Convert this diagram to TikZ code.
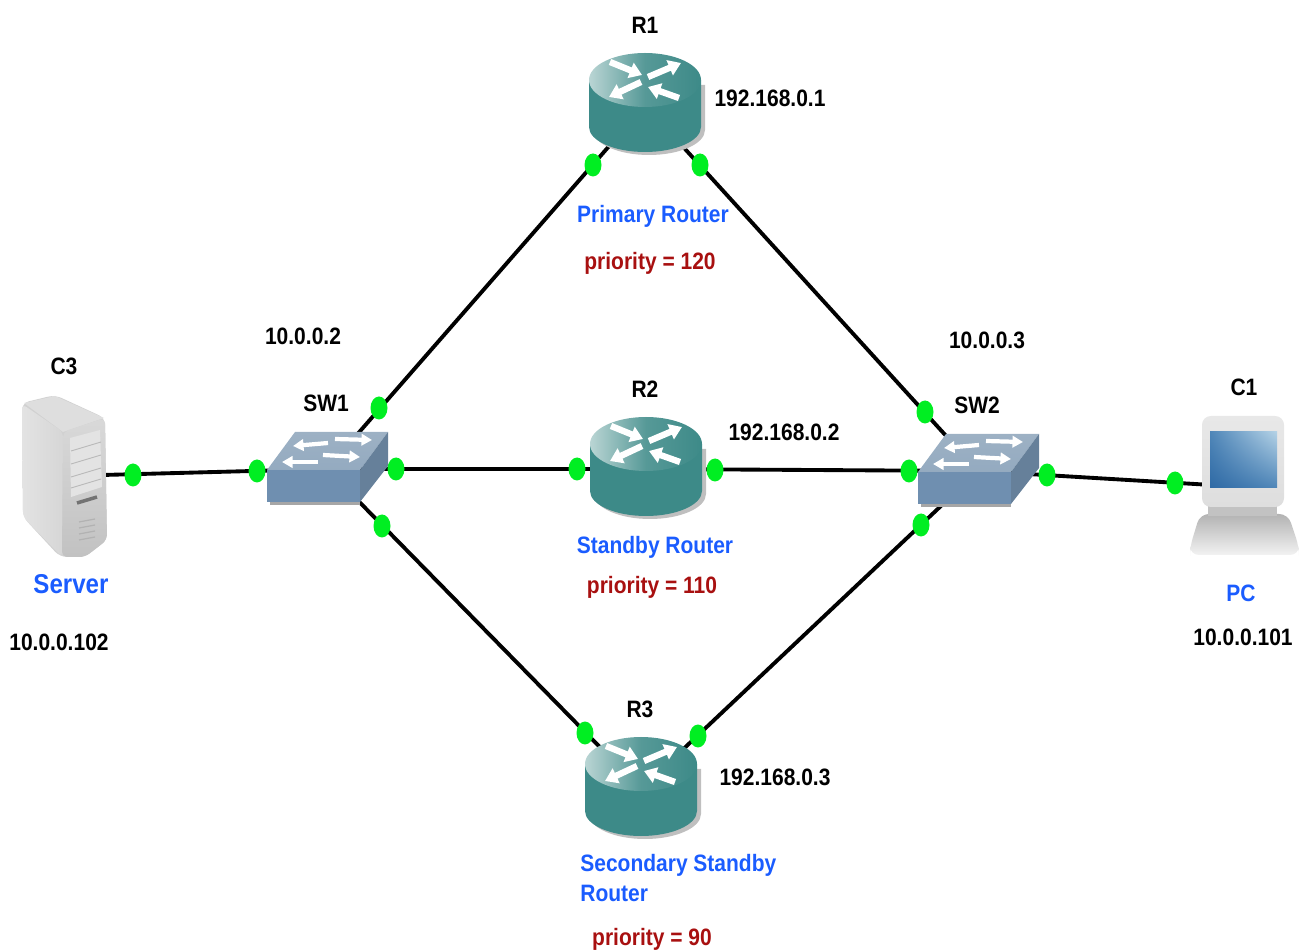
\documentclass[tikz,border=0pt]{standalone}
\usepackage{fontspec}
\usetikzlibrary{arrows.meta,shapes.geometric,shadings}
\newfontfamily\labfont[FakeStretch=0.885]{Liberation Sans}
\definecolor{teal1}{HTML}{3D8A88}
\definecolor{teallight}{HTML}{BAD5D4}
\definecolor{labblue}{HTML}{1A5CFF}
\definecolor{labred}{HTML}{A81010}
\definecolor{dotgreen}{HTML}{00EE22}
\definecolor{swfront}{HTML}{6F8FB0}
\definecolor{swtop}{HTML}{9DB1C4}
\definecolor{swside}{HTML}{66809A}
\definecolor{scrdark}{HTML}{2F6AA5}
\definecolor{scrmid}{HTML}{4F86B8}
\definecolor{scrlight}{HTML}{B4D2E6}
\tikzset{
  link/.style={line width=2.2pt,black},
  portdot/.style={shape=ellipse,fill=dotgreen,inner sep=0pt,minimum width=0.34cm,minimum height=0.46cm},
  txt/.style={font=\labfont\bfseries\fontsize{13.5}{17}\selectfont,text=black,inner sep=0pt},
  txtblue/.style={txt,text=labblue},
  txtbig/.style={txt,text=labblue,font=\labfont\bfseries\fontsize{15.5}{17}\selectfont},
  txtred/.style={txt,text=labred},
  whitearrow/.style={white,line width=3.6pt,-{Triangle[width=9pt,length=7pt]}},
  swarrow/.style={white,line width=2.4pt,-{Triangle[width=6.5pt,length=6pt]}},
  router/.pic={
    \fill[black!25] (-52,-20) -- (-52,25) arc[start angle=180,end angle=360,x radius=56,y radius=-25] -- (60,-20) -- cycle;
    \fill[teal1] (-56,-25) -- (-56,22) arc[start angle=180,end angle=360,x radius=56,y radius=-25] -- (56,-25) -- cycle;
    \shade[left color=teallight,right color=teal1,middle color=teal1!80!teallight] (0,-25) ellipse [x radius=56,y radius=27];
    \draw[whitearrow] (-35,-43) -- (-3,-30);
    \draw[whitearrow] (3,-28) -- (36,-42);
    \draw[whitearrow] (-4,-23) -- (-36,-8);
    \draw[whitearrow] (34,-7) -- (3,-18);
  },
  switchicon/.pic={
    \fill[black!35] (-57,6) rectangle (33,36);
    \fill[swfront] (-60,1) rectangle (33,33);
    \shade[top color=swtop,bottom color=swtop!80!swfront] (-60,1) -- (-32,-37) -- (61,-37) -- (33,1) -- cycle;
    \fill[swside] (33,1) -- (61,-37) -- (61,-3) -- (33,33) -- cycle;
    \draw[swarrow] (1,-26) -- (-34,-23);
    \draw[swarrow] (8,-30) -- (45,-29);
    \draw[swarrow] (-9,-7) -- (-45,-7);
    \draw[swarrow] (-4,-14) -- (33,-12);
  },
  servericon/.pic={
    \fill[black!18,rounded corners=4pt] (-43,-73) -- (-10,-81) -- (40,-58) -- (42,64) -- (20,81) -- (-5,81) -- (-42,41) -- cycle;
    \fill[black!13] (-41,-73) -- (-10,-80) -- (39,-58) -- (-2,-44) -- cycle;
    \shade[left color=black!11,right color=black!16,rounded corners=3pt] (-43,-72) -- (-2,-44) -- (-3,81) -- (-42,41) -- cycle;
    \shade[top color=black!15,bottom color=black!24,rounded corners=3pt] (-2,-44) -- (40,-58) -- (42,64) -- (20,81) -- (-3,81) -- cycle;
    \fill[black!11] (5,-38) -- (35,-46) -- (37,11) -- (6,21) -- cycle;
    \foreach \yy in {-25,-12,1,12}{\draw[black!28,line width=.5pt] (6,\yy) -- (36,\yy-9);}
    \draw[black!55,line width=2pt] (12,27) -- (32,21);
    \foreach \yy in {46,52,58,64}{\draw[black!30,line width=.7pt] (14,\yy) -- (30,\yy-3);}
  },
  pcicon/.pic={
    \shade[top color=black!30,bottom color=black!5,rounded corners=5pt] (-45,27) -- (43,27) -- (54,60) -- (54,68) -- (-55,68) -- (-55,60) -- cycle;
    \fill[black!24] (-37,18) rectangle (32,29);
    \shade[top color=black!9,bottom color=black!13,rounded corners=5pt] (-43,-71) rectangle (39,20);
    \shade[lower left=scrdark,lower right=scrmid,upper left=scrmid,upper right=scrlight] (-35,-55) rectangle (32,1);
  },
}
\begin{document}
\begin{tikzpicture}[x=0.02cm,y=-0.02cm]
\useasboundingbox (0,0) rectangle (1299,952);
\coordinate (C3) at (65,476);
\coordinate (SW1) at (327,469);
\coordinate (R1) at (645,105);
\coordinate (R2) at (646,469);
\coordinate (R3) at (641,789);
\coordinate (SW2) at (978,471);
\coordinate (C1) at (1245,487);
% connectors
\draw[link] (C3) -- (SW1);
\draw[link] (SW1) -- (R1);
\draw[link] (SW1) -- (R2);
\draw[link] (SW1) -- (R3);
\draw[link] (R1) -- (SW2);
\draw[link] (R2) -- (SW2);
\draw[link] (R3) -- (SW2);
\draw[link] (SW2) -- (C1);
% icons
\pic at (R1) {router};
\pic at (R2) {router};
\pic at (R3) {router};
\pic at (SW1) {switchicon};
\pic at (SW2) {switchicon};
\pic at (C3) {servericon};
\pic at (C1) {pcicon};
% port dots
\foreach \nm/\px/\py in {d1/133/475,d2/257/471,d3/379/408,d4/396/469,d5/382/526,d6/593/165,d7/700/165,d8/577/469,d9/715/470,d10/585/733,d11/698/736,d12/925/412,d13/909/471,d14/921/525,d15/1047/475,d16/1175/483}{
  \node[portdot] (\nm) at (\px,\py) {};
}
% labels
\node[txt] (lR1) at (645,25) {R1};
\node[txt] (ipR1) at (770,98) {192.168.0.1};
\node[txtblue] (nR1) at (653,216) {Primary Router};
\node[txtred] (pR1) at (650,263) {priority = 120};
\node[txt] (ipSW1) at (303,336) {10.0.0.2};
\node[txt] (lSW1) at (326,403) {SW1};
\node[txt] (lC3) at (64,366) {C3};
\node[txtbig] (nC3) at (71,584) {Server};
\node[txt] (ipC3) at (59,642) {10.0.0.102};
\node[txt] (lR2) at (645,389) {R2};
\node[txt] (ipR2) at (784,432) {192.168.0.2};
\node[txtblue] (nR2) at (655,547) {Standby Router};
\node[txtred] (pR2) at (652,587) {priority = 110};
\node[txt] (ipSW2) at (987,340) {10.0.0.3};
\node[txt] (lSW2) at (977,405) {SW2};
\node[txt] (lC1) at (1244,387) {C1};
\node[txtblue] (nC1) at (1241,593) {PC};
\node[txt] (ipC1) at (1243,637) {10.0.0.101};
\node[txt] (lR3) at (640,709) {R3};
\node[txt] (ipR3) at (775,777) {192.168.0.3};
\node[txtblue,align=left,anchor=west] (nR3) at (580,878) {Secondary Standby\\Router};
\node[txtred] (pR3) at (652,939) {priority = 90};
\end{tikzpicture}
\end{document}
